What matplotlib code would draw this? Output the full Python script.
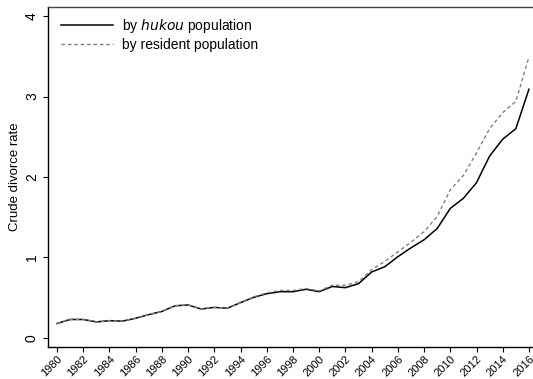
import matplotlib
matplotlib.use("Agg")
import matplotlib.pyplot as plt

plt.rcParams['font.family'] = ['Liberation Sans', 'DejaVu Sans']

years = list(range(1980, 2017))
hukou = [0.18, 0.23, 0.23, 0.20, 0.215, 0.21, 0.245, 0.29, 0.33, 0.40,
         0.41, 0.36, 0.38, 0.37, 0.44, 0.505, 0.55, 0.575, 0.575, 0.605,
         0.575, 0.64, 0.625, 0.675, 0.82, 0.885, 1.01, 1.12, 1.22, 1.36,
         1.61, 1.735, 1.93, 2.26, 2.47, 2.60, 3.09]
resident = [0.18, 0.23, 0.23, 0.20, 0.215, 0.21, 0.245, 0.29, 0.33, 0.40,
            0.41, 0.36, 0.38, 0.37, 0.44, 0.51, 0.56, 0.59, 0.59, 0.615,
            0.585, 0.655, 0.655, 0.70, 0.85, 0.95, 1.07, 1.19, 1.32, 1.51,
            1.84, 2.02, 2.30, 2.60, 2.80, 2.94, 3.49]
xticks = list(range(1980, 2017, 2))
yticks = [0, 1, 2, 3, 4]

W, H = 533, 379
fig = plt.figure(figsize=(W / 100, H / 100), dpi=100)
left, right, top, bottom = 48, 533, 7, 347
ax = fig.add_axes([left / W, 1 - bottom / H, (right - left) / W, (bottom - top) / H])

ax.plot(years, hukou, color='black', lw=1.1, label=r'by $\it{hukou}$ population')
ax.plot(years, resident, color='#808080', lw=1.0, ls=(0, (2.6, 2.0)),
        label='by resident population')

ax.set_xlim(1979.31, 2016.31)
ax.set_ylim(-0.112, 4.112)
ax.set_xticks(xticks)
ax.set_xticklabels([str(y) for y in xticks], rotation=45, ha='right',
                   rotation_mode='anchor', fontsize=8)
ax.set_yticks(yticks)
ax.set_yticklabels([str(v) for v in yticks], rotation=90, va='center', fontsize=10)
ax.tick_params(axis='both', direction='out', length=3.5, width=0.8, color='black')
ax.tick_params(axis='x', pad=1.5)
ax.tick_params(axis='y', pad=3)
ax.spines['right'].set_visible(False)
for s in ('left', 'bottom', 'top'):
    ax.spines[s].set_linewidth(1.0)
ax.spines['top'].set_color('#444444')

ax.set_ylabel('Crude divorce rate', fontsize=9.5, labelpad=3)

ax.legend(loc='upper left', frameon=False, fontsize=10, handlelength=3.7,
          handletextpad=0.7, borderaxespad=0.2, labelspacing=0.2,
          bbox_to_anchor=(0.01, 0.995))

fig.savefig('out.png', dpi=100)
